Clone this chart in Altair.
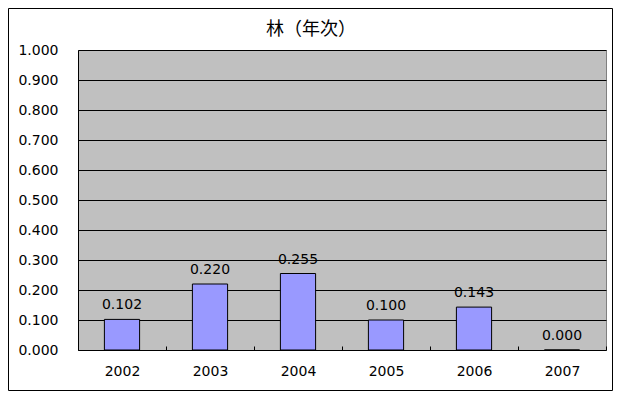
import altair as alt
import pandas as pd

years = ["2002", "2003", "2004", "2005", "2006", "2007"]
values = [0.102, 0.220, 0.255, 0.100, 0.143, 0.000]
title_text = "林（年次）"
y_ticks = [0.0, 0.1, 0.2, 0.3, 0.4, 0.5, 0.6, 0.7, 0.8, 0.9, 1.0]

df = pd.DataFrame({"year": years, "value": values})

FONT = "DejaVu Sans"

x_enc = alt.X(
    "year:N",
    sort=years,
    scale=alt.Scale(paddingInner=0, paddingOuter=0),
    axis=alt.Axis(
        title=None, domain=False, tickBand="extent", tickSize=4, offset=-4,
        tickColor="black", tickWidth=1, labelPadding=14, labelAngle=0,
        labelFont=FONT, labelFontSize=14, labelColor="black",
    ),
)
y_enc = alt.Y(
    "value:Q",
    scale=alt.Scale(domain=[0, 1], nice=False),
    axis=alt.Axis(
        title=None, values=y_ticks, format=".3f", ticks=False, labelOverlap=False,
        tickCount=20, domain=True, domainColor="black", gridColor="black", gridOpacity=1,
        labelPadding=20, labelFont=FONT, labelFontSize=14, labelColor="black",
    ),
)

base = alt.Chart(df)
bars = base.mark_bar(
    color="#9999FF", stroke="black", strokeWidth=1, width=alt.RelativeBandSize(0.4)
).encode(x=x_enc, y=y_enc)
labels = base.mark_text(dy=-7, baseline="bottom", font=FONT, fontSize=14, color="black").encode(
    x=x_enc, y=y_enc, text=alt.Text("value:Q", format=".3f")
)

one = pd.DataFrame({"t": [title_text]})
title = alt.Chart(one).mark_text(font="Noto Sans CJK JP", fontSize=18, color="black", baseline="middle").encode(
    x=alt.value(233), y=alt.value(-20), text="t:N"
)
border = alt.Chart(one).mark_rect(fill=None, stroke="black", strokeWidth=1).encode(
    x=alt.value(-69.5), x2=alt.value(534.5), y=alt.value(-41.5), y2=alt.value(340.5)
)

chart = alt.layer(border, bars, labels, title).properties(
    width=528, height=300,
    background="white",
    autosize=alt.AutoSizeParams(type="none"),
    padding={"left": 70, "top": 42, "right": 7, "bottom": 41},
).configure_view(fill="#C0C0C0", stroke="#808080", strokeWidth=1)

chart.save("out.html", embed_options={"renderer": "svg", "actions": False})
